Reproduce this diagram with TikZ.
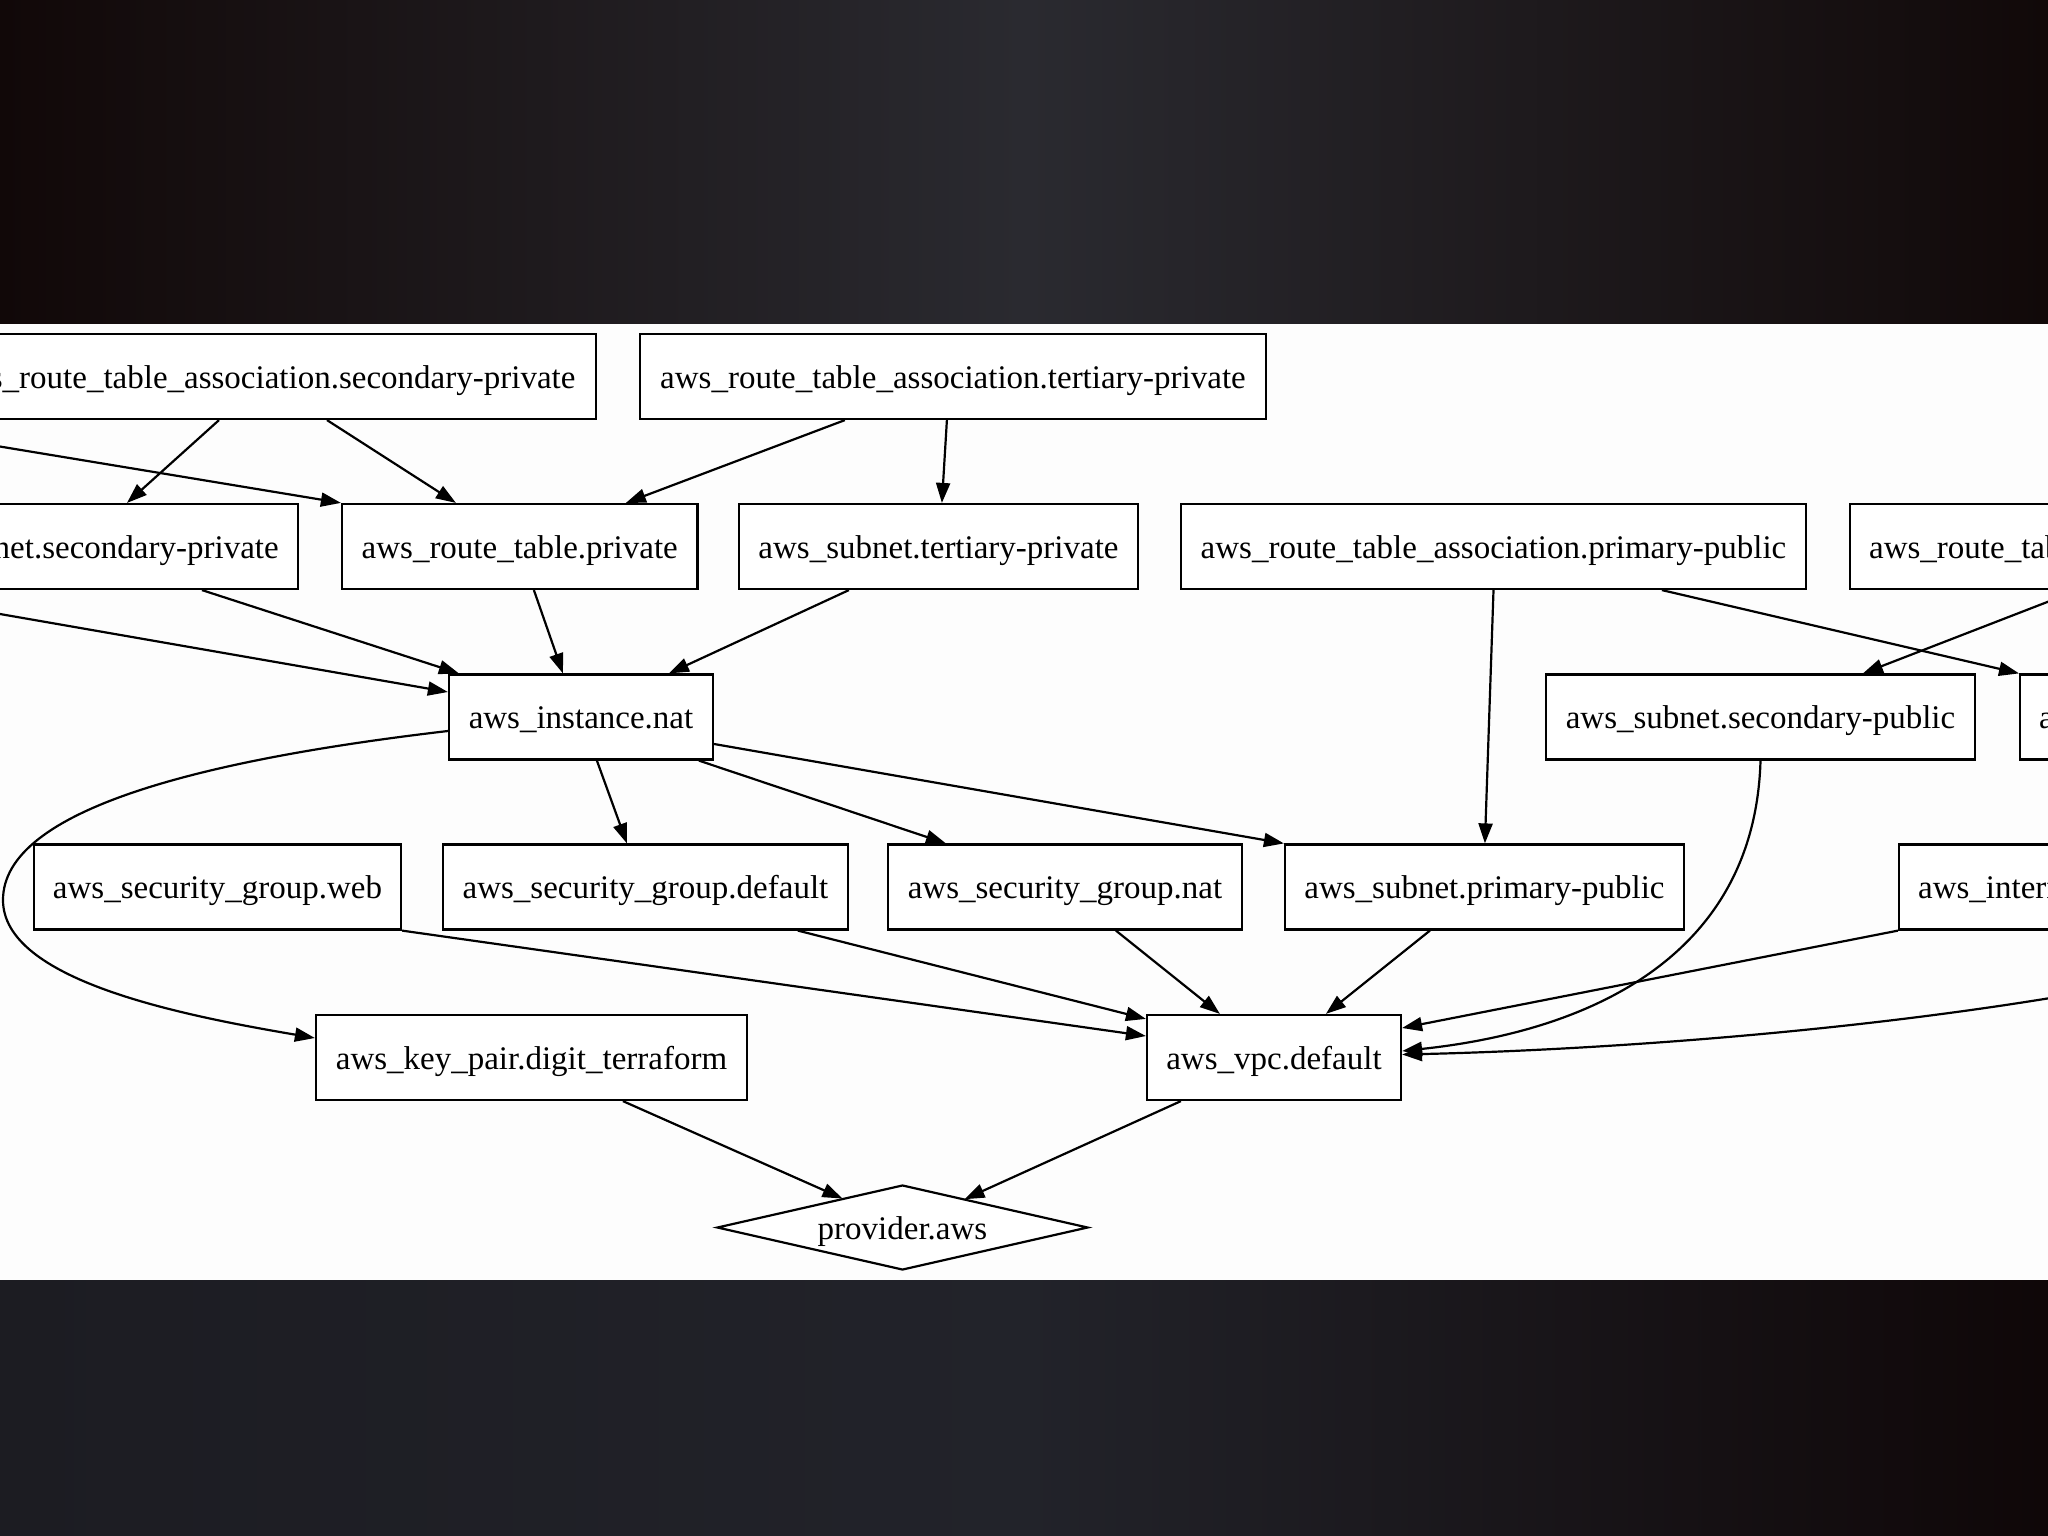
\documentclass[tikz,border=0pt]{standalone}
\usepackage{fontspec}
\setmainfont{Liberation Serif}
\usetikzlibrary{arrows.meta,calc,shapes.geometric}
\definecolor{topL}{HTML}{110808}
\definecolor{topM}{HTML}{2A2A30}
\definecolor{topR}{HTML}{110909}
\definecolor{botL}{HTML}{1C1C22}
\definecolor{botM}{HTML}{22232A}
\definecolor{botR}{HTML}{0F0708}
\definecolor{panel}{HTML}{FDFDFD}
\begin{document}
\begin{tikzpicture}[x=1pt,y=-1pt,
  box/.style={draw=black, line width=2.2pt, fill=white, rectangle, minimum height=85pt,
    inner xsep=19pt, inner ysep=0pt, text height=28pt, text depth=5pt,
    font=\fontsize{33}{40}\selectfont, text=black},
  edge/.style={line width=2.2pt, draw=black, -{Triangle[length=20pt,width=14pt]}},
]
\useasboundingbox (0,0) rectangle (2048,1536);
% background bands
\shade[left color=topL, right color=topR, middle color=topM] (0,0) rectangle (2048,324);
\shade[left color=botL, right color=botR, middle color=botM] (0,1280) rectangle (2048,1536);
\fill[panel] (0,324) rectangle (2048,1280);

\begin{scope}
\clip (0,324) rectangle (2048,1280);
% row 1
\node[box, anchor=east, minimum width=665pt] (A) at (597,376.5) {aws\_route\_table\_association.secondary-private};
\node[box, minimum width=626pt] (B) at (953,376.5) {aws\_route\_table\_association.tertiary-private};
% row 2
\node[box, anchor=east, minimum width=437pt] (C) at (299,546.5) {aws\_subnet.secondary-private};
\node[box, minimum width=355.5pt] (D) at (519.75,546.5) {aws\_route\_table.private};
\node[box, minimum width=399pt] (E) at (938.5,546.5) {aws\_subnet.tertiary-private};
\node[box, minimum width=625pt] (F) at (1493.5,546.5) {aws\_route\_table\_association.primary-public};
\node[box, anchor=west, minimum width=640pt] (G) at (1849,546.5) {aws\_route\_table\_association.secondary-public};
% row 3
\node[box, minimum width=264pt] (H) at (581,717) {aws\_instance.nat};
\node[box, minimum width=429pt] (I) at (1760.5,717) {aws\_subnet.secondary-public};
\node[box, anchor=west] (J) at (2019,717) {aws\_route\_table.public};
% row 4
\node[box, minimum width=367pt] (K) at (217.5,887) {aws\_security\_group.web};
\node[box, minimum width=405pt] (L) at (645.5,887) {aws\_security\_group.default};
\node[box, minimum width=354pt] (M) at (1065,887) {aws\_security\_group.nat};
\node[box, minimum width=399pt] (N) at (1484.5,887) {aws\_subnet.primary-public};
\node[box, anchor=west] (O) at (1898,887) {aws\_internet\_gateway.default};
% row 5
\node[box, minimum width=431pt] (P) at (531.5,1057.5) {aws\_key\_pair.digit\_terraform};
\node[box, minimum width=254pt] (Q) at (1274,1057.5) {aws\_vpc.default};
% provider
\node[diamond, draw=black, fill=white, line width=2.2pt, aspect=4.4, inner sep=0pt,
  text height=28pt, text depth=5pt,
  minimum width=371pt, minimum height=85pt, font=\fontsize{33}{40}\selectfont] (R) at (902.5,1227.5) {provider.aws};

% off-picture sources
\coordinate (offL1) at (-100,430);
\coordinate (offL2) at (-100,596.6);
\coordinate (offR1) at (2150,980);

% edges
\draw[edge] ($(A.south east)+(-378,0)$) -- ($(C.north east)+(-172,0)$);
\draw[edge] ($(A.south east)+(-270,0)$) -- ($(D.north west)+(115,0)$);
\draw[edge] (offL1) -- (D.north west);
\draw[edge] ($(B.south west)+(206,0)$) -- ($(D.north west)+(285,0)$);
\draw[edge] ($(B.south west)+(308,0)$) -- ($(E.north west)+(204,0)$);
\draw[edge] ($(C.south east)+(-97,0)$) -- ($(H.north west)+(11,0)$);
\draw[edge] (offL2) -- ($(H.west)+(0,-25)$);
\draw[edge] ($(D.south west)+(193,0)$) -- ($(H.north west)+(115,0)$);
\draw[edge] ($(E.south west)+(111,0)$) -- ($(H.north west)+(221,0)$);
\draw[edge] (F.south) -- ($(N.north west)+(201,0)$);
\draw[edge] ($(F.south west)+(482,0)$) -- (J.north west);
\draw[edge] ($(G.south west)+(229,0)$) -- ($(I.north west)+(318,0)$);
\draw[edge] ($(H.west)+(0,14)$) .. controls (200,760) and (3,810) .. (3,900)
  .. controls (3,980) and (180,1015) .. ($(P.west)+(0,-19.5)$);
\draw[edge] ($(H.south west)+(149,0)$) -- ($(L.north west)+(185,0)$);
\draw[edge] ($(H.south west)+(251,0)$) -- ($(M.north west)+(59,0)$);
\draw[edge] ($(H.east)+(0,27)$) -- (N.north west);
\draw[edge] (I.south) .. controls (1755,950) and (1600,1030) .. ($(Q.east)+(0,-6.5)$);
\draw[edge] (K.south east) -- ($(Q.west)+(0,-21.5)$);
\draw[edge] ($(L.south west)+(356,0)$) -- ($(Q.north west)+(0,5)$);
\draw[edge] ($(M.south west)+(229,0)$) -- ($(Q.north west)+(74,0)$);
\draw[edge] ($(N.south west)+(146,0)$) -- ($(Q.north west)+(180,0)$);
\draw[edge] (O.south west) -- ($(Q.east)+(0,-29.5)$);
\draw[edge] (offR1) .. controls (1900,1030) and (1600,1050) .. ($(Q.east)+(0,-3)$);
\draw[edge] ($(P.south west)+(308,0)$) -- ($(R.center)+(-60,-29)$);
\draw[edge] ($(Q.south west)+(35,0)$) -- ($(R.center)+(62,-28.3)$);
\end{scope}
\end{tikzpicture}
\end{document}
